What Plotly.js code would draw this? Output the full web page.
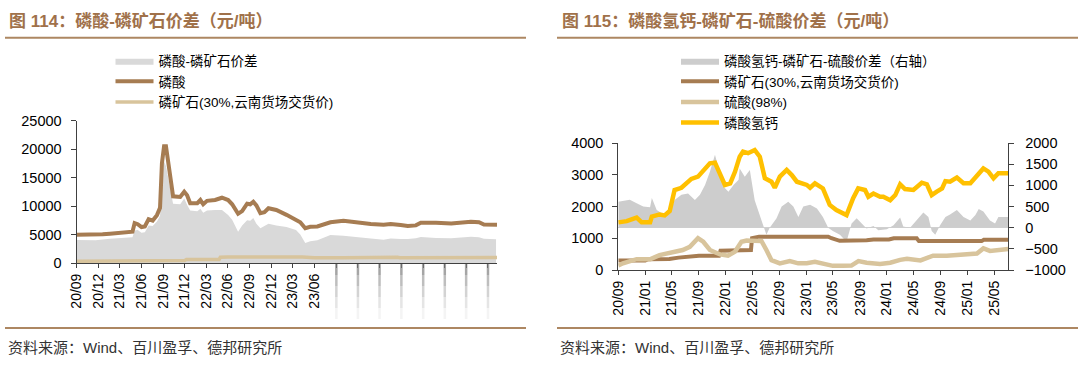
<!DOCTYPE html>
<html>
<head>
<meta charset="utf-8">
<script src="https://cdn.plot.ly/plotly-3.0.1.min.js"></script>
<style>
html,body{margin:0;padding:0;background:#fff;}
#chart{width:1080px;height:376px;}
</style>
</head>
<body>
<div id="chart"></div>
<script>
// ---------------- Chart 114 data ----------------
const acidDates = ['2020-09-01','2020-10-15','2020-11-20','2020-12-20','2021-01-20','2021-02-20','2021-03-20','2021-04-13','2021-04-25','2021-05-04','2021-05-17','2021-06-02','2021-06-16','2021-07-02','2021-07-19','2021-08-06','2021-08-19','2021-08-27','2021-09-05','2021-09-13','2021-09-30','2021-10-13','2021-11-12','2021-11-29','2021-12-11','2021-12-24','2022-01-23','2022-02-05','2022-02-17','2022-03-05','2022-04-08','2022-05-07','2022-06-02','2022-06-19','2022-07-14','2022-07-31','2022-08-21','2022-09-03','2022-09-16','2022-09-29','2022-10-16','2022-11-02','2022-11-19','2022-12-22','2023-02-03','2023-03-15','2023-04-02','2023-04-23','2023-05-14','2023-06-13','2023-08-07','2023-10-01','2023-10-31','2023-11-30','2024-01-24','2024-03-18','2024-04-17','2024-05-29','2024-06-28','2024-08-01','2024-08-22','2024-10-25','2024-12-28','2025-03-21','2025-04-24','2025-05-15','2025-07-09'];
const acidValues = [4950,4950,4880,5050,5150,5250,5350,5400,5500,7000,6800,6300,6400,7700,7450,8400,9700,17500,20500,20500,15000,11700,11600,12500,11900,10500,10500,11050,10300,10900,11050,11450,11050,10300,8650,9100,10400,10300,10750,10100,8750,8900,9600,9300,8450,7650,7150,6100,6350,6400,7150,7400,7250,7000,6850,6700,6850,6650,6500,6600,7050,7050,6950,7250,7150,6750,6700];

const spreadDates = ['2020-09-01','2020-11-20','2021-01-20','2021-03-20','2021-04-25','2021-05-04','2021-05-17','2021-06-02','2021-06-16','2021-07-02','2021-07-19','2021-08-06','2021-08-19','2021-08-27','2021-09-05','2021-09-13','2021-09-30','2021-10-13','2021-11-12','2021-11-29','2021-12-11','2021-12-24','2022-01-23','2022-02-05','2022-02-17','2022-03-05','2022-04-08','2022-05-07','2022-06-02','2022-06-19','2022-07-14','2022-07-31','2022-08-21','2022-09-03','2022-09-16','2022-09-29','2022-10-16','2022-11-02','2022-11-19','2022-12-22','2023-02-03','2023-03-15','2023-04-02','2023-04-23','2023-05-14','2023-06-13','2023-08-07','2023-10-01','2023-10-31','2023-11-30','2024-01-24','2024-03-18','2024-04-17','2024-05-29','2024-06-28','2024-08-01','2024-08-22','2024-10-25','2024-12-28','2025-03-21','2025-04-24','2025-05-15','2025-07-05'];
const spreadValues = [4050,4000,4250,4450,4500,5700,5800,5300,5400,6600,6500,7300,8300,15000,17800,17000,13000,10400,10300,11300,10200,9200,9100,9500,8800,9200,9300,9300,8400,7600,5500,6600,7500,7400,7900,6900,6100,6500,6900,6600,6300,5800,5000,3500,3800,4000,4900,4800,4650,4500,4300,4100,4300,4200,4200,4350,4550,4400,4350,4600,4500,4250,4150];

// Phosphate rock (30%, Yunnan) — shared by both charts
const rockDates = ['2020-09-01','2021-01-01','2021-01-15','2021-04-20','2021-06-01','2021-08-01','2021-09-01','2021-12-01','2021-12-08','2022-04-25','2022-04-30','2022-06-01','2023-04-10','2023-04-25','2023-06-01','2023-10-01','2023-11-01','2024-01-10','2024-02-01','2024-05-15','2024-05-25','2025-03-05','2025-03-15','2025-07-09'];
const rockValues = [300,300,340,350,390,430,450,450,610,630,1000,1050,1050,1000,920,940,960,960,1000,1000,910,910,950,950];

const leftTickVals = ['2020-09-01','2020-12-01','2021-03-01','2021-06-01','2021-09-01','2021-12-01','2022-03-01','2022-06-01','2022-09-01','2022-12-01','2023-03-01','2023-06-01','2023-09-01','2023-12-01','2024-03-01','2024-06-01','2024-09-01','2024-12-01','2025-03-01','2025-06-01'];
const leftTickText = ['20/09','20/12','21/03','21/06','21/09','21/12','22/03','22/06','22/09','22/12','23/03','23/06','','','','','','','',''];
const leftFadedTicks = ['2023-09-01','2023-12-01','2024-03-01','2024-06-01','2024-09-01','2024-12-01','2025-03-01','2025-06-01'];

// ---------------- Chart 115 data ----------------
const dcpDates = ['2020-09-01','2020-10-09','2020-11-23','2020-12-16','2021-01-23','2021-01-31','2021-03-07','2021-03-30','2021-04-22','2021-05-14','2021-06-14','2021-07-06','2021-07-29','2021-08-28','2021-09-21','2021-10-21','2021-11-13','2021-12-06','2021-12-28','2022-01-21','2022-02-12','2022-03-05','2022-03-20','2022-04-12','2022-05-12','2022-06-04','2022-06-27','2022-07-27','2022-08-11','2022-09-03','2022-10-04','2022-10-27','2022-11-19','2023-01-03','2023-01-18','2023-02-09','2023-03-17','2023-04-17','2023-05-17','2023-07-02','2023-08-01','2023-08-24','2023-09-24','2023-10-09','2023-11-01','2023-12-01','2023-12-16','2024-01-16','2024-02-08','2024-03-01','2024-03-23','2024-04-30','2024-06-07','2024-06-30','2024-07-22','2024-08-14','2024-09-07','2024-09-22','2024-10-13','2024-11-13','2024-12-13','2025-01-13','2025-02-12','2025-03-13','2025-04-05','2025-04-28','2025-05-20','2025-07-04'];
const dcpValues = [1500,1540,1650,1500,1500,1680,1750,1720,1860,2520,2590,2730,2870,2940,3120,3360,3380,2990,2680,2730,3100,3570,3730,3680,3780,3570,2890,2780,2590,2940,3150,2990,2780,2680,2590,2730,2570,2050,1890,1730,2260,2570,2520,2310,2410,2310,2310,2200,2360,2700,2550,2520,2750,2700,2360,2470,2570,2800,2780,2910,2730,2730,2990,3200,3100,2890,3050,3050];

const sulfDates = ['2020-09-01','2020-09-22','2020-11-23','2021-01-23','2021-03-07','2021-05-05','2021-06-20','2021-07-22','2021-08-28','2021-09-21','2021-10-21','2021-12-06','2022-01-11','2022-02-12','2022-03-13','2022-04-05','2022-06-12','2022-07-04','2022-07-27','2022-09-03','2022-10-18','2022-11-25','2023-01-03','2023-02-09','2023-03-17','2023-05-01','2023-06-16','2023-07-24','2023-08-25','2023-10-01','2023-12-01','2024-01-16','2024-03-01','2024-04-01','2024-06-01','2024-07-28','2024-09-28','2024-12-28','2025-02-12','2025-03-13','2025-04-12','2025-07-04'];
const sulfValues = [140,210,340,340,470,580,630,730,1000,890,630,490,450,580,890,930,910,630,310,210,280,210,210,260,210,130,130,140,280,230,190,230,320,350,300,450,450,500,520,680,600,660];

const dcpSpreadDates = ['2020-09-01','2020-10-23','2020-11-23','2020-12-23','2021-01-23','2021-01-31','2021-02-22','2021-03-30','2021-04-22','2021-05-14','2021-06-14','2021-07-14','2021-08-14','2021-09-06','2021-09-29','2021-10-21','2021-11-13','2021-11-28','2021-12-21','2022-01-13','2022-02-05','2022-02-28','2022-03-05','2022-03-28','2022-04-20','2022-05-12','2022-06-04','2022-06-19','2022-07-04','2022-07-19','2022-08-04','2022-08-19','2022-09-11','2022-10-11','2022-11-03','2022-11-26','2022-12-18','2023-01-18','2023-02-18','2023-03-17','2023-04-10','2023-05-01','2023-06-02','2023-07-02','2023-07-25','2023-08-17','2023-09-09','2023-10-01','2023-11-01','2023-11-23','2024-01-01','2024-01-31','2024-03-01','2024-03-15','2024-04-15','2024-05-22','2024-06-14','2024-07-07','2024-07-22','2024-08-07','2024-08-29','2024-09-22','2024-10-13','2024-11-13','2024-12-13','2025-01-13','2025-02-05','2025-02-20','2025-03-13','2025-04-12','2025-05-05','2025-05-20','2025-07-04'];
const dcpSpreadValues = [615,660,575,500,480,700,420,300,350,655,775,810,655,775,1010,1320,1720,1420,970,850,1010,1130,1400,1200,1360,650,300,60,-170,0,100,220,500,615,500,250,500,540,450,250,0,-80,-170,-330,100,220,100,-20,40,-60,-40,60,240,30,0,220,360,250,-80,-170,60,250,310,420,250,170,300,440,380,170,100,250,250];

const rightTickVals = ['2020-09-01','2021-01-01','2021-05-01','2021-09-01','2022-01-01','2022-05-01','2022-09-01','2023-01-01','2023-05-01','2023-09-01','2024-01-01','2024-05-01','2024-09-01','2025-01-01','2025-05-01'];
const rightTickText = ['20/09','21/01','21/05','21/09','22/01','22/05','22/09','23/01','23/05','23/09','24/01','24/05','24/09','25/01','25/05'];

// ---------------- layout helpers ----------------
const W = 1080, H = 376;
const px = v => v / W;
const py = v => (H - v) / H;

const BROWN = '#a67c52';
const TAN = '#d8c49c';
const YELLOW = '#ffc000';
const TITLE_C = '#a0714a';
const RULE_C = '#ad8762';
const FONT_LAT = 'Liberation Sans, Arial, Noto Sans CJK SC, sans-serif';
const FONT_CJK = 'Liberation Sans, Noto Sans CJK SC, sans-serif';

const traces = [
  {x: spreadDates, y: spreadValues, name: '磷酸-磷矿石价差', type: 'scatter', mode: 'lines',
   fill: 'tozeroy', fillcolor: '#d9d9d9', line: {width: 0, color: '#d9d9d9'}, xaxis: 'x', yaxis: 'y', legend: 'legend'},
  {x: acidDates, y: acidValues, name: '磷酸', type: 'scatter', mode: 'lines',
   line: {width: 4, color: BROWN}, xaxis: 'x', yaxis: 'y', legend: 'legend'},
  {x: rockDates, y: rockValues, name: '磷矿石(30%,云南货场交货价)', type: 'scatter', mode: 'lines',
   line: {width: 3.5, color: TAN}, xaxis: 'x', yaxis: 'y', legend: 'legend'},

  {x: dcpSpreadDates, y: dcpSpreadValues, name: '磷酸氢钙-磷矿石-硫酸价差（右轴）', type: 'scatter', mode: 'lines',
   fill: 'tozeroy', fillcolor: '#cdcdcd', line: {width: 0, color: '#cdcdcd'}, xaxis: 'x2', yaxis: 'y2', legend: 'legend2'},
  {x: rockDates, y: rockValues, name: '磷矿石(30%,云南货场交货价)', type: 'scatter', mode: 'lines',
   line: {width: 4, color: BROWN}, xaxis: 'x2', yaxis: 'y3', legend: 'legend2'},
  {x: sulfDates, y: sulfValues, name: '硫酸(98%)', type: 'scatter', mode: 'lines',
   line: {width: 4.5, color: TAN}, xaxis: 'x2', yaxis: 'y3', legend: 'legend2'},
  {x: dcpDates, y: dcpValues, name: '磷酸氢钙', type: 'scatter', mode: 'lines',
   line: {width: 4.5, color: YELLOW}, xaxis: 'x2', yaxis: 'y3', legend: 'legend2'}
];

const axisCommon = {
  showgrid: false, zeroline: false, showline: true, linecolor: '#404040', linewidth: 1,
  ticks: 'outside', tickcolor: '#404040', ticklen: 5, tickwidth: 1,
  tickfont: {family: FONT_LAT, size: 14.5, color: '#000'}, fixedrange: true,
  tickformat: 'd', separatethousands: false
};

const shapes = [];
// title rules & bottom rules
[[5, 526], [557, 1078]].forEach(([a, b]) => {
  shapes.push({type: 'line', xref: 'paper', yref: 'paper', x0: px(a), x1: px(b), y0: py(37.7), y1: py(37.7), line: {color: RULE_C, width: 2}});
  shapes.push({type: 'line', xref: 'paper', yref: 'paper', x0: px(a), x1: px(b), y0: py(328), y1: py(328), line: {color: RULE_C, width: 2}});
});
// faded tick marks under the hidden labels (left chart)
const fadeSteps = [0.7, 0.5, 0.34, 0.2, 0.08];
leftFadedTicks.forEach(d => {
  fadeSteps.forEach((op, i) => {
    shapes.push({type: 'line', xref: 'x', yref: 'paper', x0: d, x1: d,
      y0: py(264 + i * 11), y1: py(264 + (i + 1) * 11), opacity: op,
      line: {color: '#7f7f7f', width: 2.5}});
  });
});

const annotations = [
  {text: '<b>图 114：磷酸-磷矿石价差（元/吨）</b>', xref: 'paper', yref: 'paper', x: px(7), y: py(21.5), xanchor: 'left', yanchor: 'middle', showarrow: false,
   font: {family: FONT_CJK, size: 17, color: TITLE_C}},
  {text: '<b>图 115：磷酸氢钙-磷矿石-硫酸价差（元/吨）</b>', xref: 'paper', yref: 'paper', x: px(560), y: py(21.5), xanchor: 'left', yanchor: 'middle', showarrow: false,
   font: {family: FONT_CJK, size: 17, color: TITLE_C}},
  {text: '资料来源：Wind、百川盈孚、德邦研究所', xref: 'paper', yref: 'paper', x: px(6), y: py(347), xanchor: 'left', yanchor: 'middle', showarrow: false,
   font: {family: FONT_CJK, size: 15, color: '#333'}},
  {text: '资料来源：Wind、百川盈孚、德邦研究所', xref: 'paper', yref: 'paper', x: px(558), y: py(347), xanchor: 'left', yanchor: 'middle', showarrow: false,
   font: {family: FONT_CJK, size: 15, color: '#333'}}
];

const legendCommon = {
  xanchor: 'left', yanchor: 'top', orientation: 'v', traceorder: 'normal',
  bgcolor: 'rgba(0,0,0,0)', borderwidth: 0, itemwidth: 38, itemclick: false, itemdoubleclick: false,
  font: {family: FONT_CJK, size: 13.5, color: '#000'}
};

const layout = {
  width: W, height: H, autosize: false,
  margin: {l: 0, r: 0, t: 0, b: 0, pad: 0},
  paper_bgcolor: '#fff', plot_bgcolor: 'rgba(0,0,0,0)',
  showlegend: true,
  hovermode: false,
  legend: Object.assign({}, legendCommon, {x: px(110.5), y: py(45.5)}),
  legend2: Object.assign({}, legendCommon, {x: px(676), y: py(45.5)}),
  xaxis: Object.assign({}, axisCommon, {
    domain: [px(76.5), px(497)], anchor: 'y', type: 'date',
    range: ['2020-09-01', '2025-07-09'], tickformat: null,
    tickmode: 'array', tickvals: leftTickVals, ticktext: leftTickText,
    tickangle: -90, ticklen: 4, tickfont: {family: FONT_LAT, size: 14, color: '#000'}
  }),
  yaxis: Object.assign({}, axisCommon, {
    domain: [py(263), py(120.5)], anchor: 'x', range: [0, 25000],
    tickmode: 'linear', tick0: 0, dtick: 5000, ticklabelstandoff: 6
  }),
  xaxis2: Object.assign({}, axisCommon, {
    domain: [px(618.3), px(1008.3)], anchor: 'y2', type: 'date',
    range: ['2020-09-01', '2025-07-04'], tickformat: null,
    tickmode: 'array', tickvals: rightTickVals, ticktext: rightTickText,
    tickangle: -90, ticklen: 4, tickfont: {family: FONT_LAT, size: 14, color: '#000'}
  }),
  yaxis2: Object.assign({}, axisCommon, {
    domain: [py(270), py(143)], anchor: 'x2', side: 'right', range: [-1000, 2000],
    tickmode: 'linear', tick0: 0, dtick: 500, ticklabelstandoff: 8,
    zeroline: true, zerolinecolor: '#d0d0d0', zerolinewidth: 1
  }),
  yaxis3: Object.assign({}, axisCommon, {
    domain: [py(270), py(143)], anchor: 'x2', side: 'left', overlaying: 'y2', range: [0, 4000],
    tickmode: 'linear', tick0: 0, dtick: 1000, ticklabelstandoff: 6
  }),
  shapes: shapes,
  annotations: annotations
};

Plotly.newPlot('chart', traces, layout, {staticPlot: true, displayModeBar: false});
</script>
</body>
</html>
